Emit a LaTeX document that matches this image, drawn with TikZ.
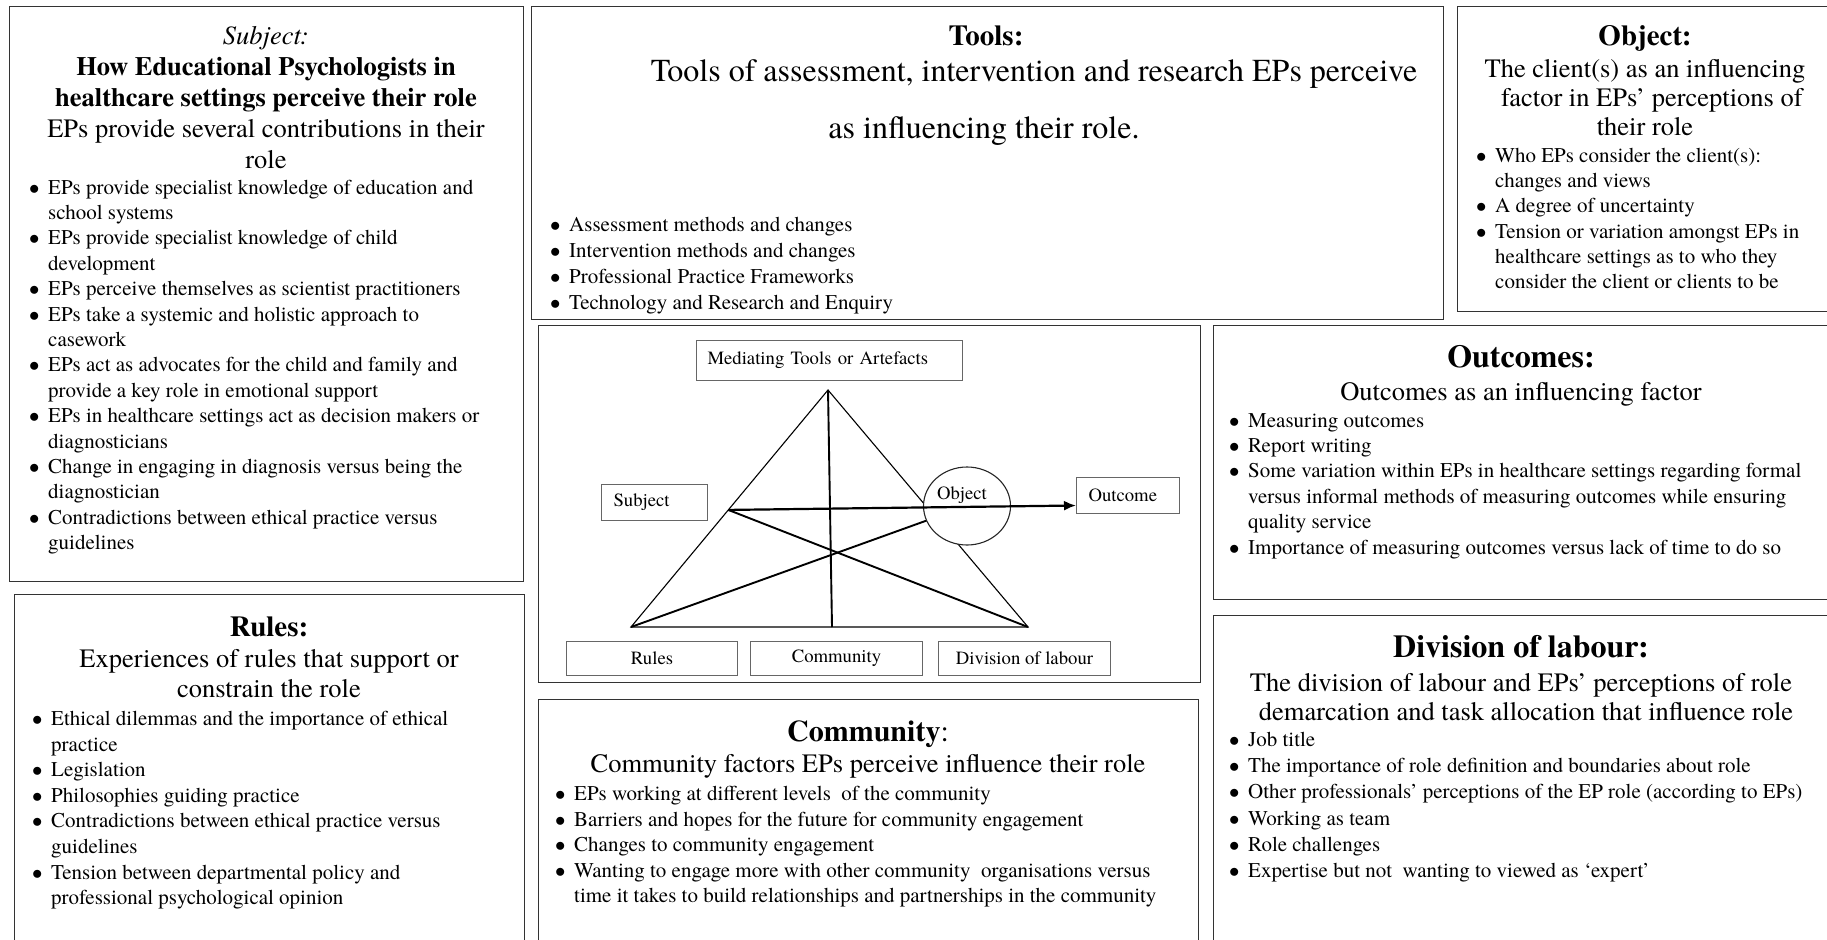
\documentclass[tikz,border=0pt]{standalone}
\usepackage{fontspec}
\IfFontExistsTF{TeX Gyre Termes}{\setmainfont{TeX Gyre Termes}\newfontfamily\bigserif{TeX Gyre Termes}}{\setmainfont{Liberation Serif}\newfontfamily\bigserif{Liberation Serif}}
\usetikzlibrary{arrows.meta,calc,shapes.geometric}
\newcommand\bl{\makebox[19pt][l]{$\bullet$}}
\newcommand\ct{\hspace*{19pt}}
\newcommand\fs[2]{\fontsize{#1}{#2}\selectfont}
\begin{document}
\begin{tikzpicture}[x=1pt,y=-1pt,
  frame/.style={draw=black!80, line width=1.3pt, anchor=north west, inner sep=0},
  head/.style={anchor=base, inner sep=0, font=\fs{21}{24}\bfseries},
  subh/.style={anchor=north, inner sep=0, align=center, scale=1.262},
  subline/.style={anchor=base, inner sep=0, scale=1.262, font=\bigserif\fs{21}{24}},
  blist/.style={anchor=north west, inner sep=0, align=left, font=\fs{21}{25.4}},
  lab/.style={draw=black!60, line width=1pt, inner ysep=0, anchor=north west, font=\fs{18.7}{22}},
  thinl/.style={line width=1.1pt},
  thickl/.style={line width=1.9pt},
]
\useasboundingbox (0,0) rectangle (1827,939);
\fill[white] (0,0) rectangle (1827,939);
\clip (0,0) rectangle (1827,939);

% frames
\node[frame, minimum width=514, minimum height=575] (subjbox) at (9,6) {};
\node[frame, minimum width=912, minimum height=313] (toolsbox) at (531,6) {};
\node[frame, minimum width=390, minimum height=305] (objbox) at (1457,6) {};
\node[frame, minimum width=662, minimum height=357] (diagbox) at (538,325) {};
\node[frame, minimum width=630, minimum height=274] (outbox) at (1213,325) {};
\node[frame, minimum width=510, minimum height=366] (rulesbox) at (14,594) {};
\node[frame, minimum width=660, minimum height=261] (commbox) at (538,699) {};
\node[frame, minimum width=630, minimum height=345] (divbox) at (1213,615) {};

% anchor points for scaled text
\coordinate (p-subj) at (266,26.5);
\coordinate (p-tools) at (986,46);
\coordinate (p-tl1) at (1034,82);
\coordinate (p-tl2) at (984,138);
\coordinate (p-obj) at (1645,46);
\coordinate (p-objs) at (1645,59);
\coordinate (p-out) at (1521,367);
\coordinate (p-outs) at (1521,400);
\coordinate (p-rules) at (269,636);
\coordinate (p-ruless) at (269,649);
\coordinate (p-comm) at (868,741.5);
\coordinate (p-comms) at (868,772);
\coordinate (p-div) at (1521,657.5);
\coordinate (p-divs) at (1521,673);

% Subject
\node[subh, font=\bigserif\fs{21}{24.49}] (subjhead) at (p-subj) {{\itshape Subject:}\\\textbf{How Educational Psychologists in}\\\textbf{healthcare settings perceive their role}\\EPs provide several contributions in their\\role};
\node[blist] (subjlist) at (29,179.5) {\bl EPs provide specialist knowledge of education and\\
\ct school systems\\
\bl EPs provide specialist knowledge of child\\
\ct development\\
\bl EPs perceive themselves as scientist practitioners\\
\bl EPs take a systemic and holistic approach to\\
\ct casework\\
\bl EPs act as advocates for the child and family and\\
\ct provide a key role in emotional support\\
\bl EPs in healthcare settings act as decision makers or\\
\ct diagnosticians\\
\bl Change in engaging in diagnosis versus being the\\
\ct diagnostician\\
\bl Contradictions between ethical practice versus\\
\ct guidelines};

% Tools
\node[head, scale=1.381] (toolshead) at (p-tools) {Tools:};
\node[subline, scale=1.2076] (toolsl1) at (p-tl1) {Tools of assessment, intervention and research EPs perceive};
\node[subline, scale=1.2076] (toolsl2) at (p-tl2) {as influencing their role.};
\node[blist, font=\fs{21}{26}] (toolslist) at (550,216.5) {\bl Assessment methods and changes\\
\bl Intervention methods and changes\\
\bl Professional Practice Frameworks\\
\bl Technology and Research and Enquiry};

% Object
\node[head, scale=1.381] (objhead) at (p-obj) {Object:};
\node[subh, font=\bigserif\fs{21}{22.98}] (objsub) at (p-objs) {The client(s) as an influencing\\\hspace*{11pt}factor in EPs’ perceptions of\\their role};
\node[blist, font=\fs{21}{25.2}] (objlist) at (1476,148) {\bl Who EPs consider the client(s):\\
\ct changes and views\\
\bl A degree of uncertainty\\
\bl Tension or variation amongst EPs in\\
\ct healthcare settings as to who they\\
\ct consider the client or clients to be};

% Outcomes
\node[head, scale=1.524] (outhead) at (p-out) {Outcomes:};
\node[subline] (outsub) at (p-outs) {Outcomes as an influencing factor};
\node[blist] (outlist) at (1229,413) {\bl Measuring outcomes\\
\bl Report writing\\
\bl Some variation within EPs in healthcare settings regarding formal\\
\ct versus informal methods of measuring outcomes while ensuring\\
\ct quality service\\
\bl Importance of measuring outcomes versus lack of time to do so};

% Rules
\node[head, scale=1.381] (ruleshead) at (p-rules) {Rules:};
\node[subh, font=\bigserif\fs{21}{23.77}] (rulessub) at (p-ruless) {Experiences of rules that support or\\constrain the role};
\node[blist, font=\fs{21}{25.6}] (ruleslist) at (32,711) {\bl Ethical dilemmas and the importance of ethical\\
\ct practice\\
\bl Legislation\\
\bl Philosophies guiding practice\\
\bl Contradictions between ethical practice versus\\
\ct guidelines\\
\bl Tension between departmental policy and\\
\ct professional psychological opinion};

% Community
\node[anchor=base, inner sep=0, scale=1.4286, font=\fs{21}{24}] (commhead) at (p-comm) {\textbf{Community}:};
\node[subline] (commsub) at (p-comms) {Community factors EPs perceive influence their role};
\node[blist, font=\fs{21}{25.5}] (commlist) at (555,786) {\bl EPs working at different levels\ \ of the community\\
\bl Barriers and hopes for the future for community engagement\\
\bl Changes to community engagement\\
\bl Wanting to engage more with other community\ \ organisations versus\\
\ct time it takes to build relationships and partnerships in the community};

% Division of labour
\node[head, scale=1.524] (divhead) at (p-div) {Division of labour:};
\node[subh, font=\bigserif\fs{21}{22.98}] (divsub) at (p-divs) {The division of labour and EPs’ perceptions of role\\\hspace*{8pt}demarcation and task allocation that influence role};
\node[blist, font=\fs{21}{26.2}] (divlist) at (1229,732) {\bl Job title\\
\bl The importance of role definition and boundaries about role\\
\bl Other professionals’ perceptions of the EP role (according to EPs)\\
\bl Working as team\\
\bl Role challenges\\
\bl Expertise but not\ \ wanting to viewed as ‘expert’};

% Activity system diagram
\node[lab, minimum height=40, text width=244, inner xsep=11, align=left] (med) at (696,340) {Mediating Tools or Artefacts};
\node[lab, minimum height=36, text width=82, inner xsep=12, align=left] (subj) at (601,484) {Subject};
\node[lab, minimum height=36, text width=79, inner xsep=12, align=left] (outc) at (1076,477) {Outcome};
\node[lab, minimum height=34, minimum width=171, inner xsep=0] (rules) at (566,641) {Rules};
\node[lab, minimum height=34, minimum width=172, inner xsep=0] (comm) at (750,641) {Community};
\node[lab, minimum height=34, minimum width=172, inner xsep=0] (divl) at (938,641) {Division of labour};

\coordinate (A) at (828,390);
\coordinate (BL) at (631,627);
\coordinate (BR) at (1028,627);
\coordinate (BM) at (832,627);
\coordinate (S) at ($(A)!0.506!(BL)$);
\coordinate (O) at (967,506);
\coordinate (T) at ($(outc.west)+(0,10)$);

\draw[thinl] (A) -- (BL) -- (BR) -- cycle;
\draw[thickl] (A) -- (BM);
\draw[thickl] (S) -- (BR);
\draw[thickl] (BL) -- (O);
\node[draw=black!85, line width=1.1pt, fill=white, ellipse, minimum width=87, minimum height=78, inner sep=0] (obj) at (O) {};
\node[font=\fs{18.7}{22}, inner sep=0] (objlab) at (962,495) {Object};
\draw[line width=2.2pt, -{Latex[length=12pt,width=10pt]}] (S) -- (T);
\end{tikzpicture}
\end{document}
